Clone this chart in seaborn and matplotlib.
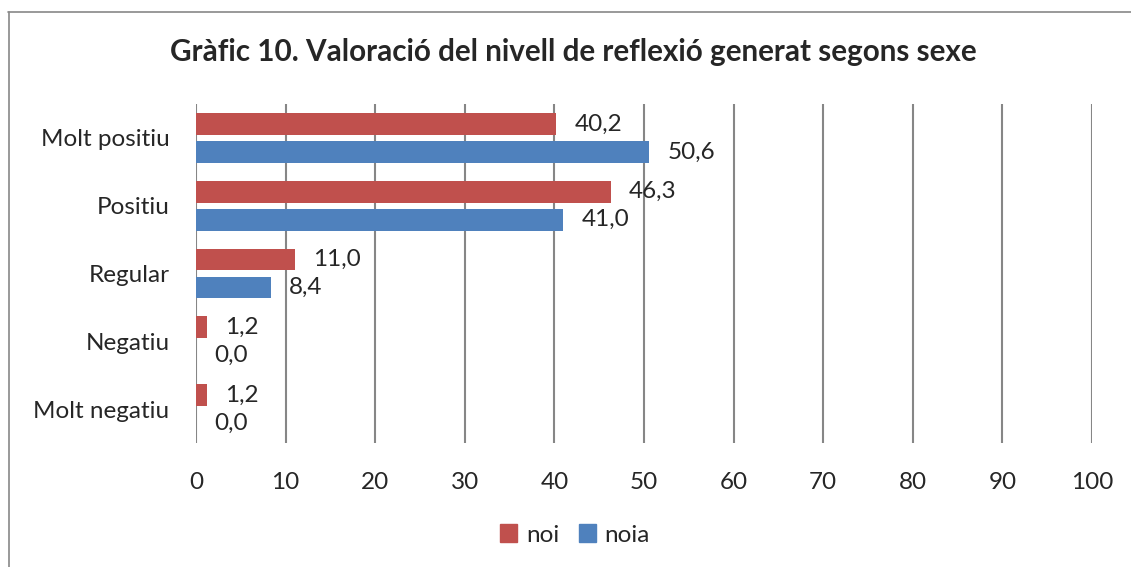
import pandas as pd
import seaborn as sns
import matplotlib.pyplot as plt
from matplotlib.lines import Line2D
from matplotlib.patches import Patch

# Data
categories = ['Molt positiu', 'Positiu', 'Regular', 'Negatiu', 'Molt negatiu']
noi = [40.2, 46.3, 11.0, 1.2, 1.2]
noia = [50.6, 41.0, 8.4, 0.0, 0.0]
series = ['noi', 'noia']
colors = ['#C0504D', '#4F81BD']
x_ticks = list(range(0, 101, 10))

df = pd.DataFrame({
    'cat': categories * 2,
    'val': noi + noia,
    'sexe': ['noi'] * len(categories) + ['noia'] * len(categories),
})

sns.set_style('white')
plt.rcParams['font.family'] = ['Lato', 'DejaVu Sans']

fig = plt.figure(figsize=(11.31, 5.67), dpi=100)
ax = fig.add_axes([196 / 1131, 1 - 443 / 567, 896 / 1131, 339 / 567])

sns.barplot(data=df, y='cat', x='val', hue='sexe', orient='h',
            palette=colors, width=0.826, ax=ax, legend=False, saturation=1,
            linewidth=0)

# shrink bars a bit to leave the white gap between series
for p in ax.patches:
    h = p.get_height()
    p.set_y(p.get_y() + h * 0.11)
    p.set_height(h * 0.78)

# value labels, comma decimals
for cont in ax.containers:
    labels = [f'{v:.1f}'.replace('.', ',') for v in cont.datavalues]
    ax.bar_label(cont, labels=labels, padding=13, fontsize=17.5)

ax.set_xlim(0, 100)
ax.set_xticks(x_ticks)
ax.set_ylim(4.5, -0.5)
ax.grid(axis='x', color='#868686', linewidth=1.5)
ax.set_axisbelow(True)
for s in ax.spines.values():
    s.set_visible(False)
ax.tick_params(axis='x', labelsize=17.5, pad=21, length=0)
ax.tick_params(axis='y', labelsize=17.5, pad=19, length=0)
ax.set_xlabel('')
ax.set_ylabel('')

handles = [Patch(color=c, label=s) for s, c in zip(series, colors)]
fig.legend(handles=handles, loc='center', bbox_to_anchor=(575 / 1131, 1 - 535 / 567),
           ncol=2, frameon=False, fontsize=17.5, handlelength=0.7, handleheight=0.7,
           handletextpad=0.35, columnspacing=0.8)

fig.text(573 / 1131, 1 - 52 / 567,
         'Gràfic 10. Valoració del nivell de reflexió generat segons sexe',
         ha='center', va='center', fontsize=21.3, fontweight='bold')

# chart border (cropped at right and bottom)
fig.add_artist(Line2D([8.5 / 1131, 8.5 / 1131], [0, 1 - 12 / 567], color='#888888', linewidth=1.2))
fig.add_artist(Line2D([8 / 1131, 1], [1 - 12 / 567, 1 - 12 / 567], color='#888888', linewidth=1.2))

fig.savefig('out.png', dpi=100)
